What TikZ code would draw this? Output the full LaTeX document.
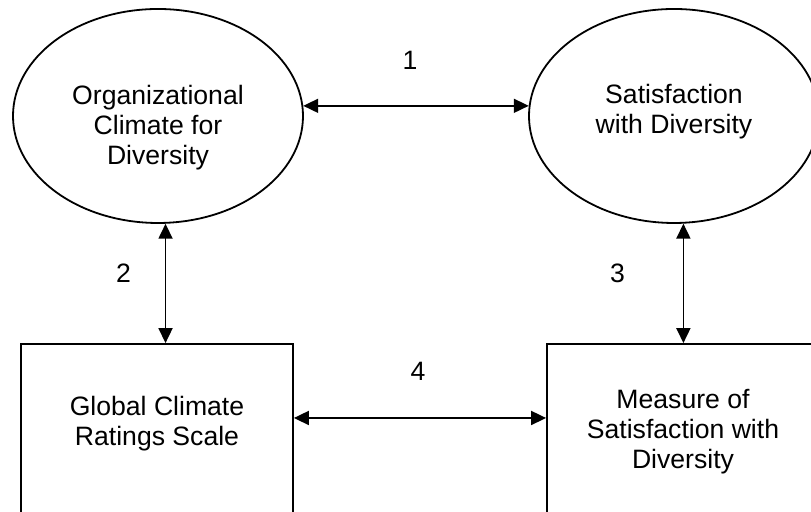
\documentclass[tikz,border=0pt]{standalone}
\usepackage{fontspec}
\setmainfont{Liberation Sans}
\usetikzlibrary{arrows.meta,shapes.geometric}

\tikzset{
  latent/.style={draw, line width=0.9pt, ellipse, minimum width=145pt, minimum height=107pt, inner sep=0pt},
  measured/.style={draw, line width=0.9pt, rectangle, minimum width=136pt, minimum height=100pt, inner sep=0pt},
  inside/.style={align=center, font=\fontsize{13.3}{15}\selectfont},
  link/.style={line width=0.9pt, {Triangle[length=7.5pt,width=7pt]}-{Triangle[length=7.5pt,width=7pt]}},
  num/.style={font=\fontsize{13.3}{15}\selectfont}
}

\begin{document}
\begin{tikzpicture}[x=0.5pt,y=0.5pt]
		%%%%% FRAME %%%%%
		\useasboundingbox (0,0) rectangle (811,512);
		\clip (0,0) rectangle (811,512);
		
		%%%%% CONSTRUCTS %%%%%
		\node[latent, label={[inside, yshift=-6pt]center:Organizational\\Climate for\\Diversity}] (oc) at (158,396) {};
		\node[latent, label={[inside, yshift=2pt]center:Satisfaction\\with Diversity}] (sd) at (674,396) {};
		
		%%%%% MEASURES %%%%%
		\node[measured, label={[inside, yshift=10pt]center:Global Climate\\Ratings Scale}] (gc) at (157,68) {};
		\node[measured, label={[inside, yshift=6pt]center:Measure of\\Satisfaction with\\Diversity}] (ms) at (683,68) {};
		
		%%%%% PATHS %%%%%
		\draw[link] (oc.4) -- (sd.176) node[num, midway, xshift=-3pt, yshift=22.5pt] {1};
		\draw[link] (oc.-86) -- (oc.-86 |- gc.north) node[num, midway, xshift=-21pt, yshift=5pt] {2};
		\draw[link] (sd.-85) -- (sd.-85 |- ms.north) node[num, midway, xshift=-33pt, yshift=5pt] {3};
		\draw[link] ([yshift=13pt]gc.east) -- ([yshift=13pt]ms.west) node[num, midway, xshift=-1pt, yshift=23.5pt] {4};
	\end{tikzpicture}
\end{document}
